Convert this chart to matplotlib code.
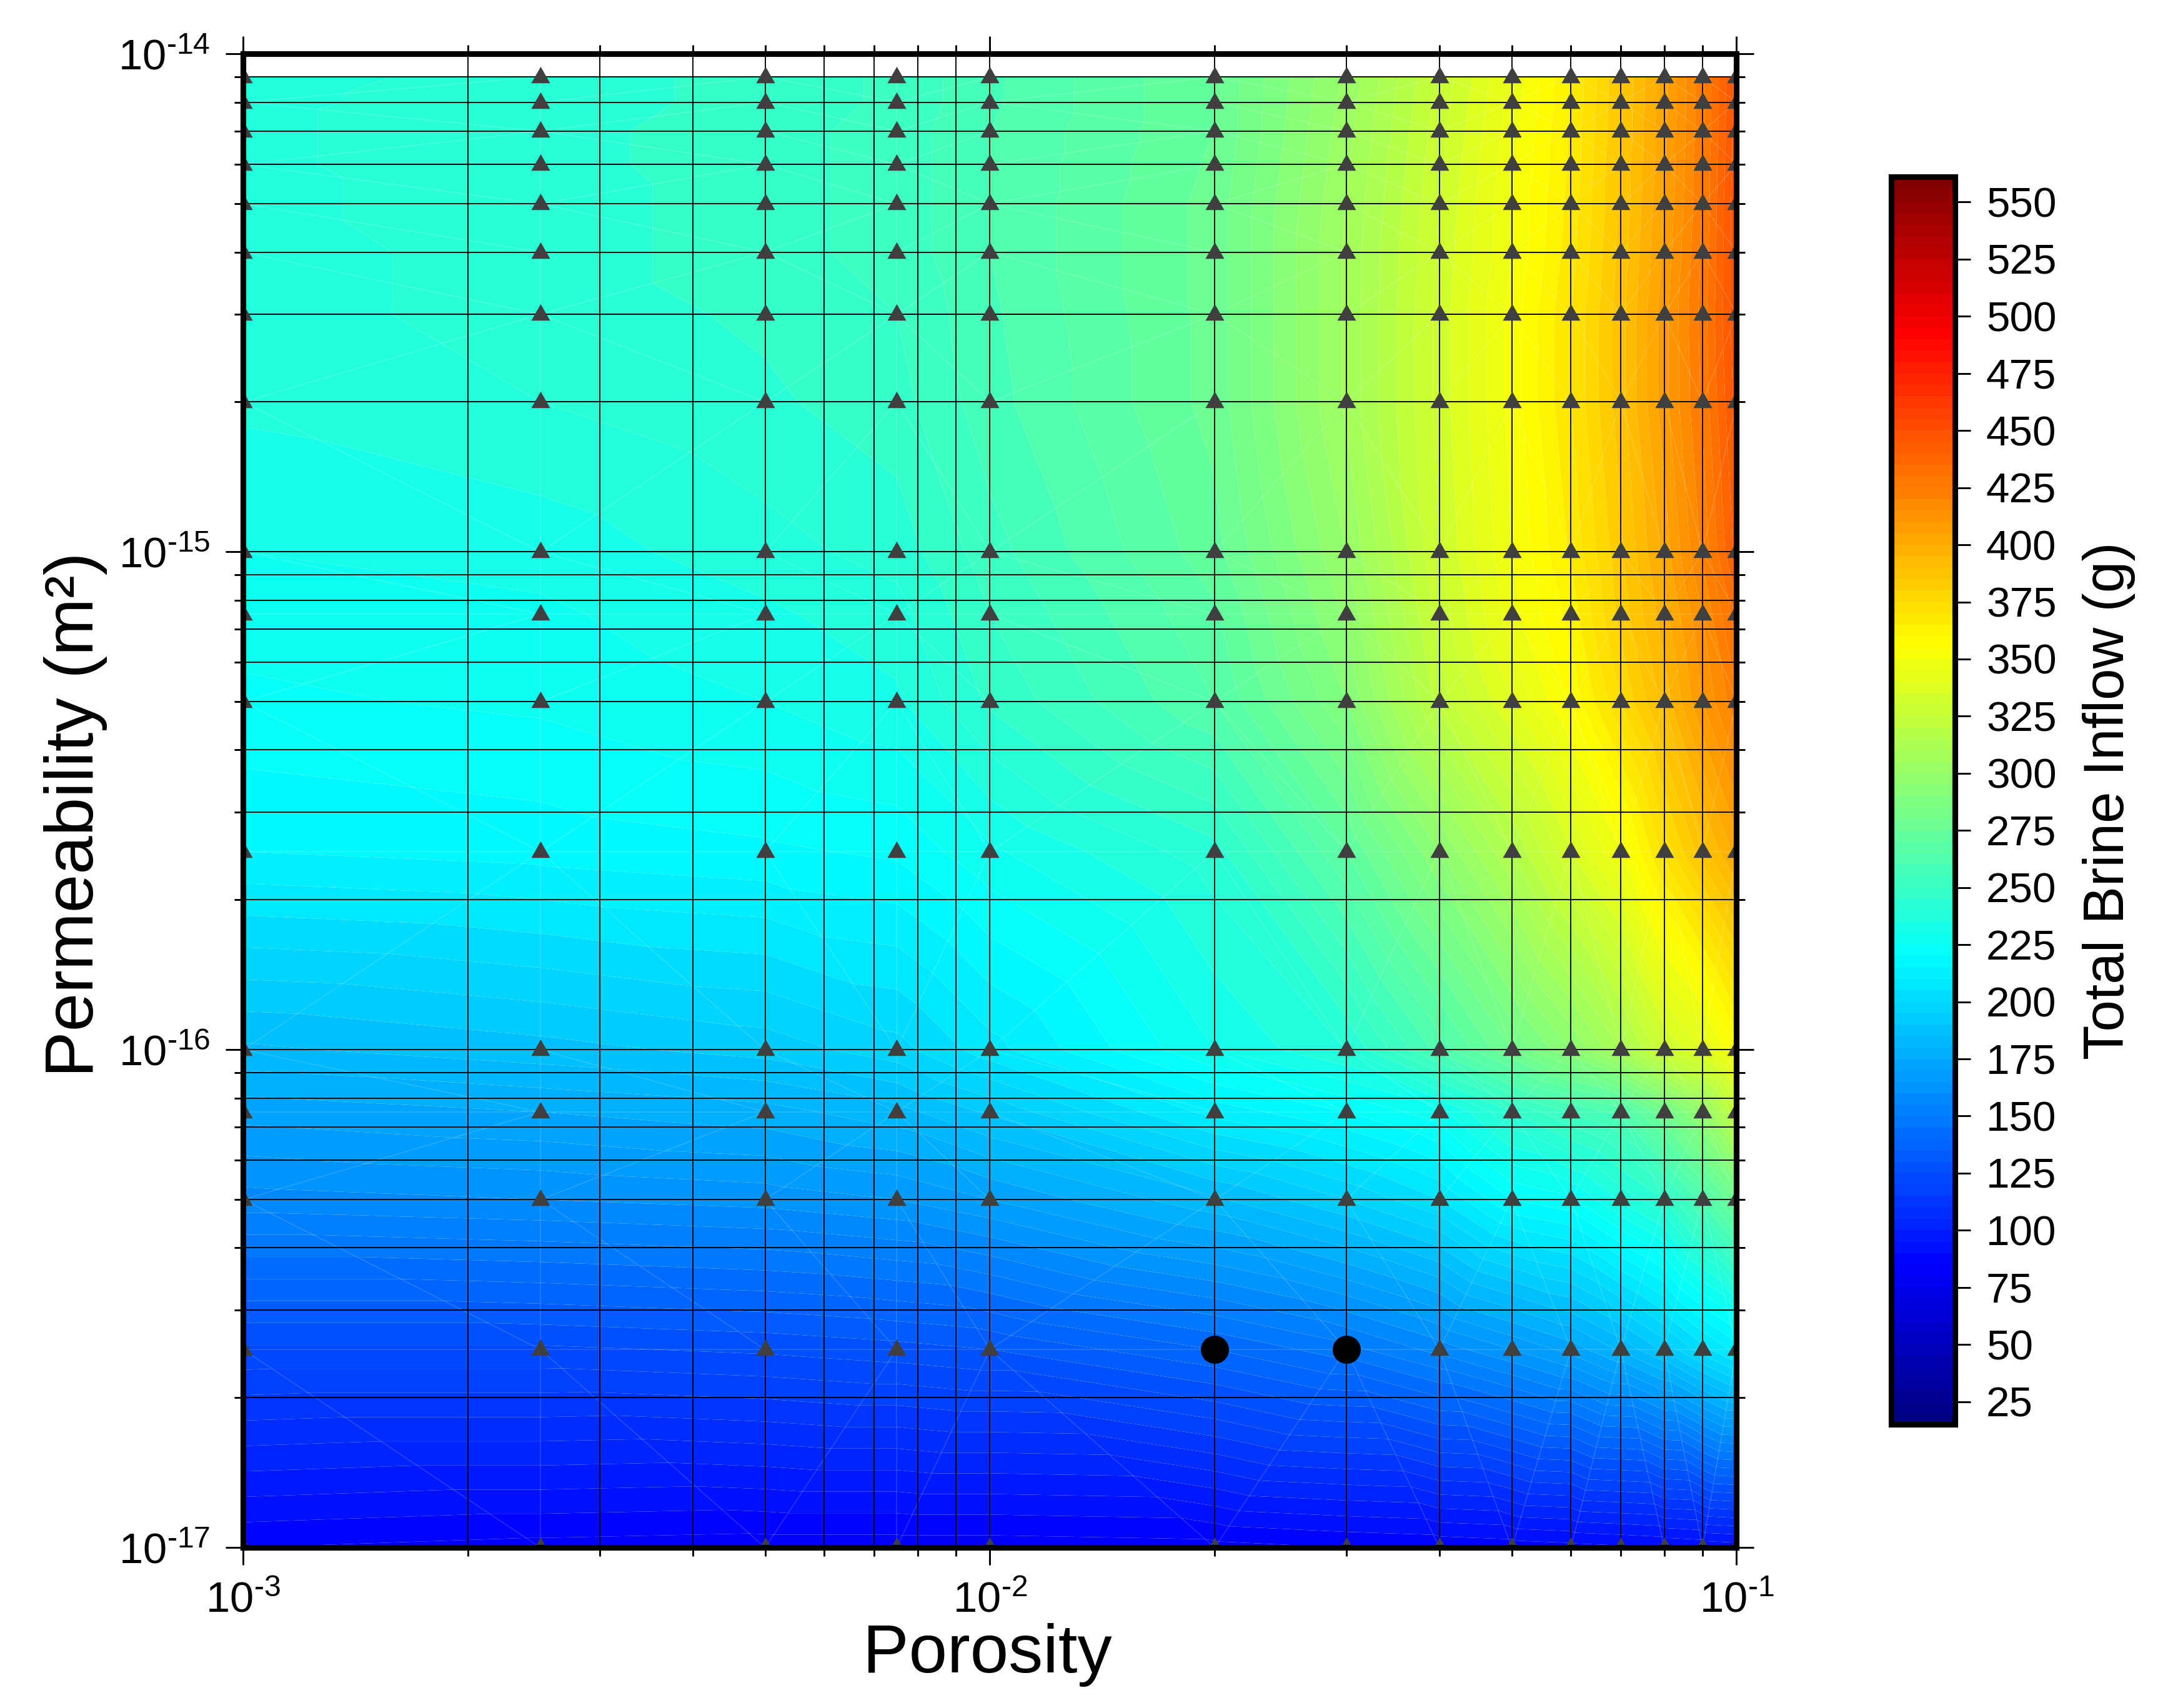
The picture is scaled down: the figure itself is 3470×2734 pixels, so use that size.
import numpy as np
import matplotlib
import matplotlib.pyplot as plt
import matplotlib.tri as mtri
from matplotlib.colors import LinearSegmentedColormap
from matplotlib.ticker import LogLocator, NullFormatter, FixedLocator, FixedFormatter
from matplotlib.transforms import Affine2D

matplotlib.use('Agg')

plt.rcParams['font.family'] = ['Liberation Sans', 'DejaVu Sans']
plt.rcParams['mathtext.fontset'] = 'custom'
plt.rcParams['mathtext.rm'] = 'Liberation Sans'
plt.rcParams['mathtext.default'] = 'regular'

porosity = [0.001, 0.0025, 0.005, 0.0075, 0.01, 0.02, 0.03, 0.04, 0.05, 0.06, 0.07, 0.08, 0.09, 0.1]
permeability = [1e-17, 2.5e-17, 5e-17, 7.5e-17, 1e-16, 2.5e-16, 5e-16, 7.5e-16, 1e-15,
                2e-15, 3e-15, 4e-15, 5e-15, 6e-15, 7e-15, 8e-15, 9e-15]

# total brine inflow (g), one list per permeability
k_1e17 = [85, 83, 82, 82, 82, 83, 85, 86, 87, 88, 89, 90, 91, 92]
k_25e18 = [124, 124, 126, 128, 130, 140, 148, 157, 165, 172, 181, 191, 203, 212]
k_5e17 = [158, 160, 162, 165, 170, 184, 195, 205, 220, 224, 236, 245, 262, 280]
k_75e17 = [172, 175, 178, 183, 191, 212, 220, 228, 245, 255, 262, 280, 298, 325]
k_1e16 = [184, 188, 192, 198, 208, 230, 240, 262, 280, 295, 310, 330, 340, 356]
k_25e16 = [215, 217, 219, 221, 229, 243, 270, 295, 315, 335, 350, 372, 388, 402]
k_5e16 = [224, 226, 230, 234, 246, 265, 290, 322, 340, 356, 375, 392, 410, 424]
k_75e16 = [227, 229, 234, 238, 250, 269, 296, 327, 348, 362, 382, 398, 415, 433]
k_1e15 = [230, 232, 238, 242, 253, 273, 300, 330, 350, 366, 384, 402, 421, 442]
k_2e15 = [236, 240, 244, 248, 258, 277, 306, 332, 352, 370, 388, 408, 426, 447]
k_3e15 = [238, 242, 246, 250, 259, 277, 306, 332, 352, 370, 388, 408, 427, 449]
k_4e15 = [238, 242, 248, 252, 260, 277, 306, 331, 350, 368, 387, 406, 426, 449]
k_5e15 = [239, 242, 248, 252, 260, 277, 305, 330, 350, 367, 386, 405, 425, 449]
k_6e15 = [239, 243, 248, 252, 260, 276, 304, 329, 349, 366, 386, 404, 425, 448]
k_7e15 = [239, 243, 248, 252, 260, 275, 303, 328, 348, 366, 385, 404, 424, 448]
k_8e15 = [239, 242, 247, 251, 259, 275, 302, 327, 347, 365, 385, 403, 424, 447]
k_9e15 = [238, 242, 247, 251, 259, 275, 301, 326, 346, 365, 385, 403, 424, 447]

inflow = np.array([k_1e17, k_25e18, k_5e17, k_75e17, k_1e16, k_25e16, k_5e16, k_75e16, k_1e15,
                   k_2e15, k_3e15, k_4e15, k_5e15, k_6e15, k_7e15, k_8e15, k_9e15], dtype=float)

# runs marked with a circle instead of a triangle
circle_porosity = [0.02, 0.03]
circle_permeability = [2.5e-17, 2.5e-17]

jet_colors = ['#00007F', '#0000FF', '#007FFF', '#00FFFF', '#7FFF7F', '#FFFF00', '#FF7F00', '#FF0000', '#7F0000']
cbar_ticks = list(range(25, 551, 25))

# triangle sits a little above its point, like the R one
triangle_marker = [(-37, -24), (37, -24), (0, 41)]

xx, yy = np.meshgrid(porosity, permeability)
xx = xx.ravel()
yy = yy.ravel()
zz = inflow.ravel()

W, H, DPI = 3470, 2734, 300
fig = plt.figure(figsize=(W / DPI, H / DPI), dpi=DPI)
ax = fig.add_axes([0.1122, 0.0939, 0.6888, 0.8745])
cax = fig.add_axes([0.8724, 0.166, 0.0293, 0.7304])

cmap = LinearSegmentedColormap.from_list('brine', jet_colors, N=256)
levels = np.arange(15, 566, 5)

ax.set_xscale('log')
ax.set_yscale('log')
ax.set_xlim(1e-3, 1e-1)
ax.set_ylim(1e-17, 1e-14)

# triangulate and contour in log space, then map onto the axes
log_tri = mtri.Triangulation(np.log10(xx), np.log10(yy))
log_to_axes = Affine2D().translate(3, 17).scale(1 / 2.0, 1 / 3.0) + ax.transAxes
cf = ax.tricontourf(log_tri, zz, levels=levels, cmap=cmap, vmin=15, vmax=561,
                    transform=log_to_axes, antialiased=True, zorder=1)
ax.triplot(log_tri, color='white', lw=0.4, alpha=0.15, transform=log_to_axes, zorder=1.2)

ax.set_xlim(1e-3, 1e-1)
ax.set_ylim(1e-17, 1e-14)

is_circle = np.zeros(len(xx), dtype=bool)
for cx, cy in zip(circle_porosity, circle_permeability):
    is_circle |= (xx == cx) & (yy == cy)
ax.plot(xx[~is_circle], yy[~is_circle], ls='none', marker=triangle_marker, color='#3f3f3f', ms=8.0, mew=0, zorder=3)
ax.plot(circle_porosity, circle_permeability, 'o', color='black', ms=10.8, mew=0, zorder=3)

ax.grid(True, which='both', color='black', lw=0.45)
ax.xaxis.set_minor_locator(LogLocator(base=10, subs=range(2, 10), numticks=10))
ax.yaxis.set_minor_locator(LogLocator(base=10, subs=range(2, 10), numticks=10))
ax.xaxis.set_minor_formatter(NullFormatter())
ax.yaxis.set_minor_formatter(NullFormatter())
ax.xaxis.set_major_locator(FixedLocator([1e-3, 1e-2, 1e-1]))
ax.xaxis.set_major_formatter(FixedFormatter([r'$10^{\text{-}3}$', r'$10^{\text{-}2}$', r'$10^{\text{-}1}$']))
ax.yaxis.set_major_locator(FixedLocator([1e-17, 1e-16, 1e-15, 1e-14]))
ax.yaxis.set_major_formatter(FixedFormatter([r'$10^{\text{-}17}$', r'$10^{\text{-}16}$',
                                             r'$10^{\text{-}15}$', r'$10^{\text{-}14}$']))
ax.tick_params(which='major', direction='out', length=6.7, width=0.7, top=True, right=True,
               labelsize=16.5, pad=6)
ax.tick_params(which='minor', direction='out', length=3.4, width=0.7, top=True, right=True)
for spine in ax.spines.values():
    spine.set_linewidth(2.2)
    spine.set_zorder(5)

ax.set_xlabel('Porosity', fontsize=26.5, labelpad=1)
ax.set_ylabel('Permeability (m²)', fontsize=26.5, labelpad=4)
ax.xaxis.label.set_x(0.4985)
ax.yaxis.label.set_y(0.4907)

cb = fig.colorbar(cf, cax=cax, ticks=cbar_ticks)
cax.set_ylim(15, 561)
cax.tick_params(which='major', direction='out', length=6, width=0.7, labelsize=16.2, pad=6, right=True)
cax.minorticks_off()
cb.outline.set_linewidth(2.2)
cb.set_label('Total Brine Inflow (g)', fontsize=21.8, labelpad=10)

plt.savefig('out.png', dpi=DPI)
plt.close(fig)
